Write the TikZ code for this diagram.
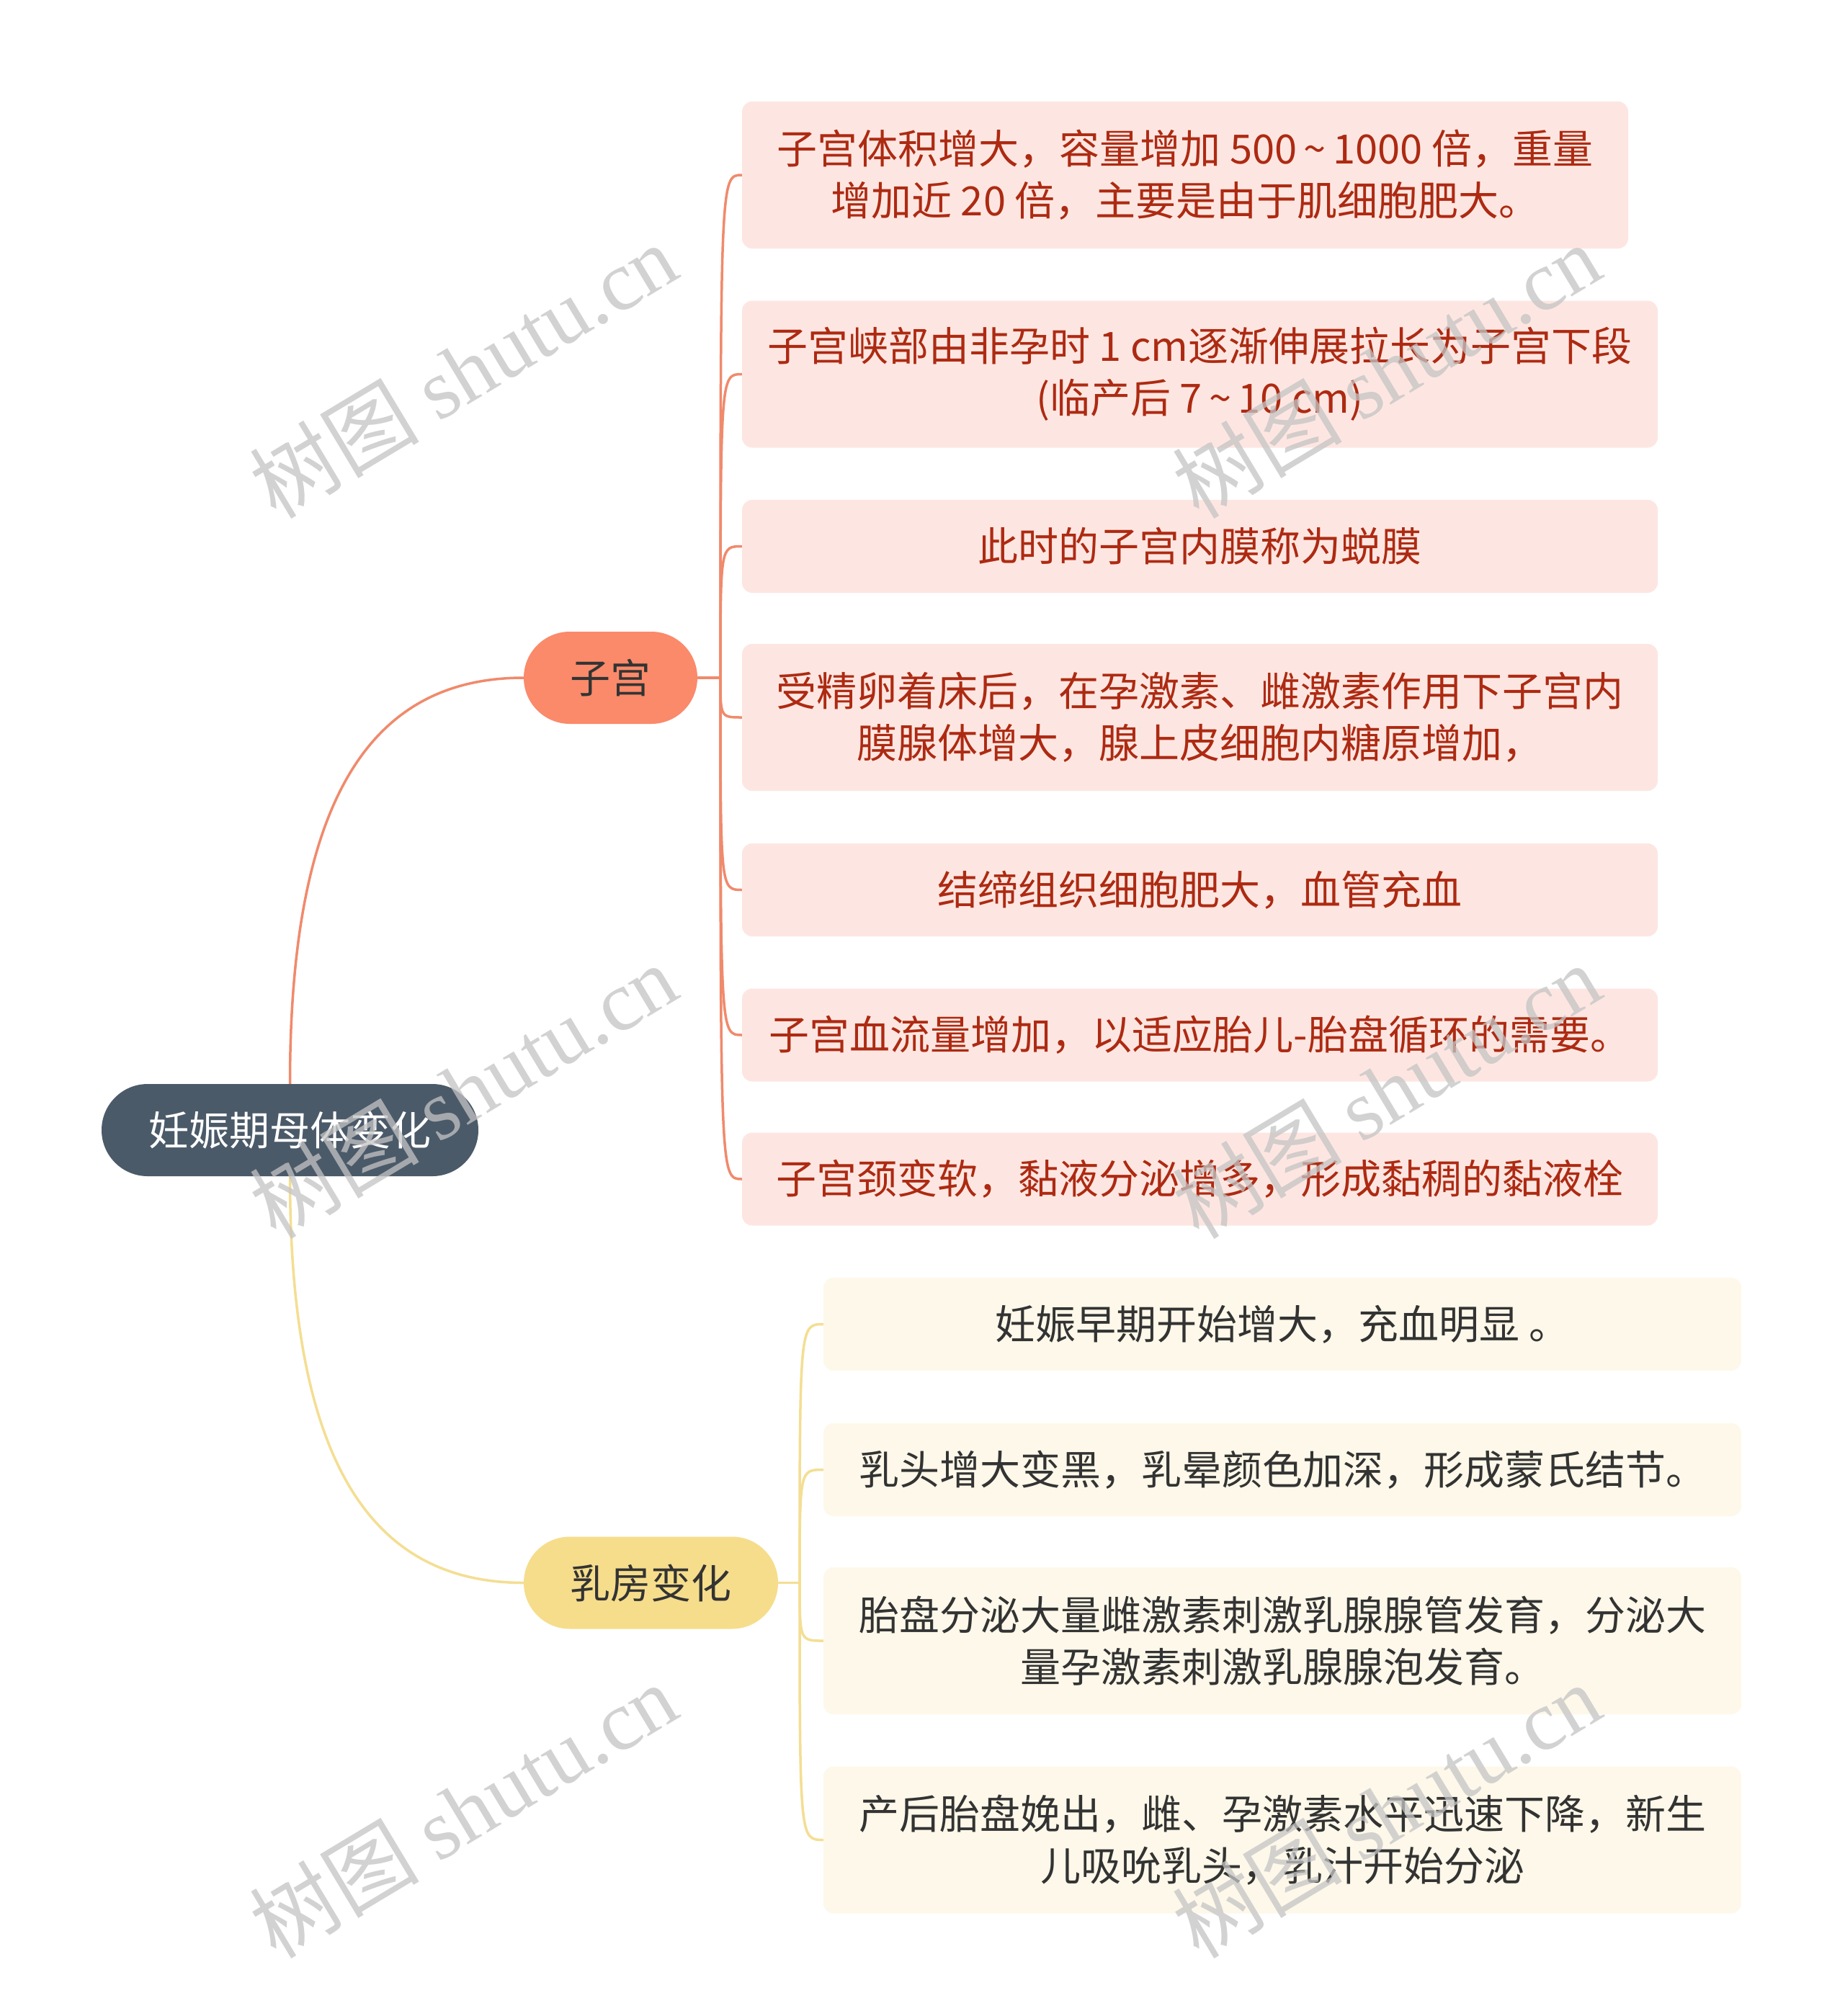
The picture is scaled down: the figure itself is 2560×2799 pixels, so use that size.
\documentclass[tikz,border=0pt]{standalone}
\usepackage{fontspec}
\setmainfont{Noto Sans CJK SC}
\newfontfamily\wmlat{Liberation Serif}
\newfontfamily\wmcjk{Noto Sans CJK SC}
\definecolor{rootfill}{HTML}{4B5A69}
\definecolor{ufill}{HTML}{FA8A6A}
\definecolor{bfill}{HTML}{F6DD8B}
\definecolor{uleaf}{HTML}{FDE6E1}
\definecolor{bleaf}{HTML}{FDF8E9}
\definecolor{utext}{HTML}{AD2A12}
\definecolor{dtext}{HTML}{333333}
\definecolor{uline}{HTML}{F08A6C}
\definecolor{bline}{HTML}{F4DE92}
\definecolor{wmgray}{HTML}{C4C4C4}
\newcommand{\tld}{\,\textasciitilde\,}
\begin{document}
\begin{tikzpicture}[x=1pt,y=-1pt,
  txt/.style={font=\fontsize{56}{72}\selectfont, align=center, inner sep=0pt},
  pill/.style={txt, rectangle, rounded corners=64pt, minimum height=128pt},
  rootnode/.style={pill, fill=rootfill, text=white, minimum width=523pt},
  upill/.style={pill, fill=ufill, text=dtext},
  bpill/.style={pill, fill=bfill, text=dtext},
  uleafnode/.style={txt, rectangle, rounded corners=14pt, fill=uleaf, text=utext, minimum width=1271pt},
  bleafnode/.style={txt, rectangle, rounded corners=14pt, fill=bleaf, text=dtext, minimum width=1274pt},
  one/.style={minimum height=129pt},
  two/.style={minimum height=204pt},
  ulink/.style={draw=uline, line width=3.5pt},
  blink/.style={draw=bline, line width=3.5pt},
  wm/.style={text=wmgray, text opacity=0.75, rotate=31, inner sep=0pt, font=\fontsize{118}{118}\selectfont}
]
\useasboundingbox (0,0) rectangle (2560,2799);
\fill[white] (0,0) rectangle (2560,2799);

% main nodes
\node[rootnode] (root) at (402.5,1569) {妊娠期母体变化};
\node[upill, minimum width=241pt] (zg) at (847.5,941) {子宫};
\node[bpill, minimum width=353pt] (rf) at (903.5,2197.5) {乳房变化};

% uterus leaves
\node[uleafnode, two, minimum width=1230pt] (u1) at (1645,243) {子宫体积增大，容量增加 500\tld 1000 倍，重量\\增加近 20 倍，主要是由于肌细胞肥大。};
\node[uleafnode, two] (u2) at (1665.5,519.5) {子宫峡部由非孕时 1 cm逐渐伸展拉长为子宫下段\\(临产后 7\tld 10 cm)};
\node[uleafnode, one] (u3) at (1665.5,758.5) {此时的子宫内膜称为蜕膜};
\node[uleafnode, two] (u4) at (1665.5,996) {受精卵着床后，在孕激素、雌激素作用下子宫内\\膜腺体增大，腺上皮细胞内糖原增加，};
\node[uleafnode, one] (u5) at (1665.5,1235.5) {结缔组织细胞肥大，血管充血};
\node[uleafnode, one] (u6) at (1665.5,1437) {子宫血流量增加，以适应胎儿-胎盘循环的需要。};
\node[uleafnode, one] (u7) at (1665.5,1637) {子宫颈变软，黏液分泌增多，形成黏稠的黏液栓};

% breast leaves
\node[bleafnode, one] (b1) at (1780,1838.5) {妊娠早期开始增大，充血明显 。};
\node[bleafnode, one] (b2) at (1780,2040.5) {乳头增大变黑，乳晕颜色加深，形成蒙氏结节。};
\node[bleafnode, two] (b3) at (1780,2278) {胎盘分泌大量雌激素刺激乳腺腺管发育，分泌大\\量孕激素刺激乳腺腺泡发育。};
\node[bleafnode, two] (b4) at (1780,2554.5) {产后胎盘娩出，雌、孕激素水平迅速下降，新生\\儿吸吮乳头，乳汁开始分泌};

% root links
\draw[ulink] (root.north) .. controls (402.5,1100) and (520,941) .. (zg.west);
\draw[blink] (root.south) .. controls (402.5,2038) and (520,2197.5) .. (rf.west);

% uterus branch
\coordinate (uj) at (1000,941);
\draw[ulink] (zg.east) -- (uj);
\foreach \n in {u1,u2,u3,u4,u5,u6,u7}
  \draw[ulink] (uj) .. controls (uj |- \n.west) and (uj |- \n.west) .. (\n.west);

% breast branch
\coordinate (bj) at (1110,2197.5);
\draw[blink] (rf.east) -- (bj);
\foreach \n in {b1,b2,b3,b4}
  \draw[blink] (bj) .. controls (bj |- \n.west) and (bj |- \n.west) .. (\n.west);

% watermarks
\node[wm] (w1) at (643,514) {\wmcjk 树图 \wmlat shutu.cn};
\node[wm] (w2) at (1924,514) {\wmcjk 树图 \wmlat shutu.cn};
\node[wm] (w3) at (643,1514) {\wmcjk 树图 \wmlat shutu.cn};
\node[wm] (w4) at (1924,1514) {\wmcjk 树图 \wmlat shutu.cn};
\node[wm] (w5) at (643,2513) {\wmcjk 树图 \wmlat shutu.cn};
\node[wm] (w6) at (1924,2513) {\wmcjk 树图 \wmlat shutu.cn};
\end{tikzpicture}
\end{document}
